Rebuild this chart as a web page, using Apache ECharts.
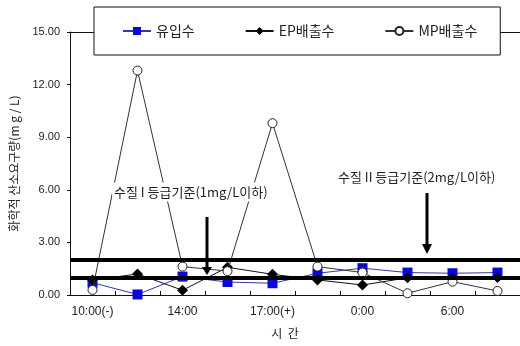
<!DOCTYPE html>
<html><head><meta charset="utf-8">
<script src="https://cdn.jsdelivr.net/npm/echarts@6/dist/echarts.min.js"></script>
<style>html,body{margin:0;padding:0;background:#fff}#c{width:520px;height:346px}</style>
</head><body><div id="c"></div>
<script>
const categories = ['10:00(-)', '12:00', '14:00', '16:00', '17:00(+)', '20:00', '0:00', '3:00', '6:00', '9:00'];
const seriesNames = ['유입수', 'EP배출수', 'MP배출수'];
const inflow = [0.70, 0.03, 1.05, 0.74, 0.67, 1.24, 1.53, 1.28, 1.24, 1.28];
const epOut  = [0.85, 1.20, 0.27, 1.58, 1.18, 0.86, 0.57, 0.98, 0.95, 1.00];
const mpOut  = [0.29, 12.80, 1.62, 1.36, 9.80, 1.62, 1.28, 0.10, 0.76, 0.23];
const standardLines = [1, 2];
const yMin = 0, yMax = 15, yStep = 3;
const note1 = '수질 I 등급기준(1mg/L이하)';
const note2 = '수질 II 등급기준(2mg/L이하)';
const yName = '화학적 산소요구량(m g / L)';
const xName = '시  간';

const FONT = '"Liberation Sans", "Noto Sans CJK KR", sans-serif';
const KFONT = '"Noto Sans CJK KR", "Liberation Sans", sans-serif';
const chart = echarts.init(document.getElementById('c'), null, {renderer: 'canvas'});

chart.setOption({
  animation: false,
  backgroundColor: '#fff',
  grid: {left: 68, right: 0, top: 32, bottom: 51, containLabel: false},
  legend: {
    data: seriesNames,
    left: 94, top: 7,
    padding: [17, 23, 17, 28],
    itemGap: 50, itemWidth: 28, itemHeight: 10,
    backgroundColor: '#fff', borderColor: '#111', borderWidth: 1, borderRadius: 0,
    textStyle: {fontSize: 14, color: '#222', fontFamily: KFONT},
    z: 10
  },
  xAxis: [{
    type: 'category', data: categories, boundaryGap: true, position: 'bottom',
    axisLine: {lineStyle: {color: '#111', width: 1}},
    axisTick: {show: true, inside: true, length: 4, interval: 0, lineStyle: {color: '#111'}},
    axisLabel: {interval: 1, margin: 11, fontSize: 12, color: '#222', fontFamily: FONT},
    splitLine: {show: false}
  }, {
    type: 'category', data: categories, boundaryGap: true, position: 'top',
    axisLine: {show: true, lineStyle: {color: '#111', width: 1}},
    axisTick: {show: false}, axisLabel: {show: false}, splitLine: {show: false}
  }],
  yAxis: {
    type: 'value', min: yMin, max: yMax, interval: yStep,
    name: yName, nameLocation: 'middle', nameGap: 50, nameRotate: 90,
    nameTextStyle: {fontSize: 12, color: '#222', fontFamily: KFONT},
    axisLine: {show: true, lineStyle: {color: '#111', width: 1}},
    axisTick: {show: true, inside: false, length: 3, lineStyle: {color: '#111'}},
    axisLabel: {margin: 10, fontSize: 11, color: '#222', fontFamily: FONT,
      formatter: v => v.toFixed(2)},
    splitLine: {show: false}
  },
  series: [{
    name: seriesNames[0], type: 'line', data: inflow,
    symbol: 'rect', symbolSize: 10,
    itemStyle: {color: '#0a0ad8'},
    lineStyle: {color: '#3636a6', width: 1},
    markLine: {
      silent: true, symbol: ['none', 'none'],
      label: {show: false},
      lineStyle: {color: '#000', width: 4, type: 'solid'},
      data: standardLines.map(v => ({yAxis: v}))
    },
    z: 2
  }, {
    name: seriesNames[1], type: 'line', data: epOut,
    symbol: 'diamond', symbolSize: 11,
    itemStyle: {color: '#000'},
    lineStyle: {color: '#111', width: 1},
    z: 3
  }, {
    name: seriesNames[2], type: 'line', data: mpOut,
    symbol: 'circle', symbolSize: 9,
    itemStyle: {color: '#fff', borderColor: '#222', borderWidth: 1},
    lineStyle: {color: '#333', width: 1},
    z: 4
  }],
  graphic: [
    {type: 'line', shape: {x1: 207, y1: 217, x2: 207, y2: 268}, style: {stroke: '#000', lineWidth: 3}, z: 20},
    {type: 'polygon', shape: {points: [[202, 267], [212, 267], [207, 275]]}, style: {fill: '#000'}, z: 20},
    {type: 'line', shape: {x1: 427, y1: 193, x2: 427, y2: 245}, style: {stroke: '#000', lineWidth: 3}, z: 20},
    {type: 'polygon', shape: {points: [[422, 244], [432, 244], [427, 254]]}, style: {fill: '#000'}, z: 20},
    {type: 'text', x: 112, y: 192, z: 21,
      style: {text: note1, font: '13px ' + KFONT, fill: '#222', align: 'left', verticalAlign: 'middle',
        backgroundColor: '#fff', padding: [3, 2]}},
    {type: 'text', x: 336, y: 177, z: 21,
      style: {text: note2, font: '13px ' + KFONT, fill: '#222', align: 'left', verticalAlign: 'middle',
        backgroundColor: '#fff', padding: [3, 2]}},
    {type: 'text', x: 285, y: 333, z: 21,
      style: {text: xName, font: '12px ' + KFONT, fill: '#222', align: 'center', verticalAlign: 'middle'}}
  ]
});
</script>
</body></html>
